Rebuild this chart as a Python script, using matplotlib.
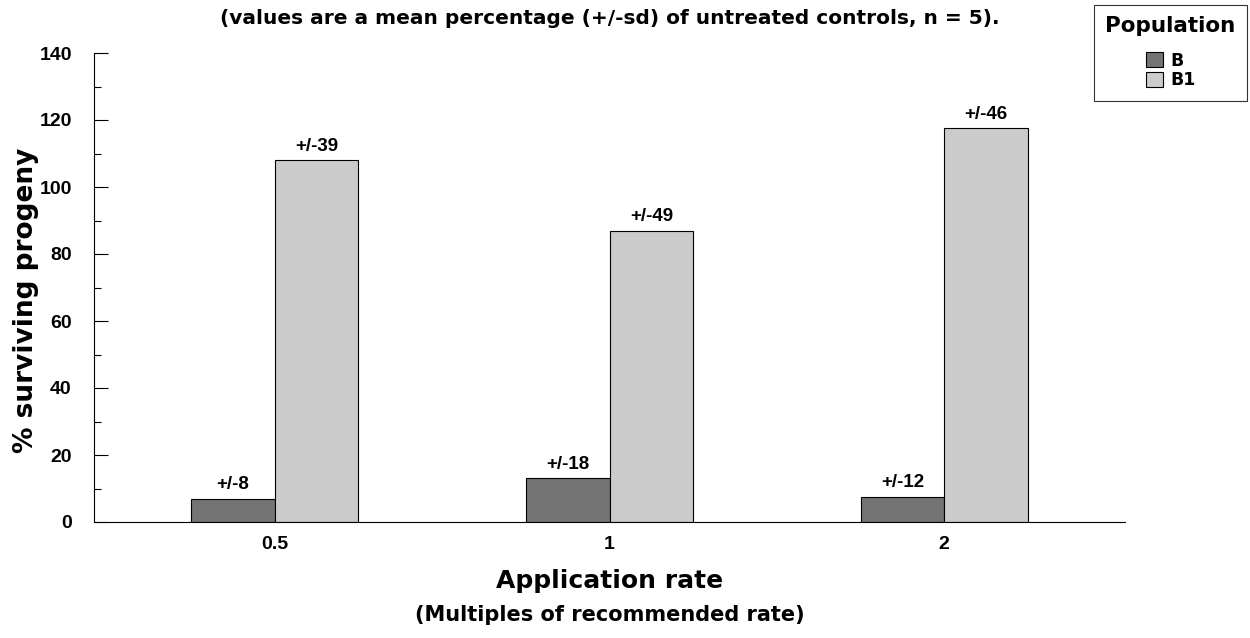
import numpy as np
import matplotlib
matplotlib.use("Agg")
import matplotlib.pyplot as plt
from matplotlib.ticker import MultipleLocator

# ---------------------------------------------------------------------------
# Data
# ---------------------------------------------------------------------------
rates = ["0.5", "1", "2"]
pop_b = [7, 13, 7.5]
pop_b1 = [108, 87, 117.5]
sd_b = ["+/-8", "+/-18", "+/-12"]
sd_b1 = ["+/-39", "+/-49", "+/-46"]

plt.rcParams["font.family"] = ["Liberation Sans", "DejaVu Sans"]
plt.rcParams["font.weight"] = "bold"
WIDE = ["DejaVu Sans"]  # wider face for the labels, closer to the scan

W, H = 1250, 638
fig = plt.figure(figsize=(W / 100, H / 100), dpi=100)
ax = fig.add_axes([94 / W, 1 - 522 / H, (1125 - 94) / W, (522 - 53) / H])

x = np.arange(len(rates))
bw = 0.25
bars_b = ax.bar(x - bw / 2, pop_b, bw, color="#747474", edgecolor="black",
                linewidth=0.8, label="B")
bars_b1 = ax.bar(x + bw / 2, pop_b1, bw, color="#cbcbcb", edgecolor="black",
                 linewidth=0.8, label="B1")

for bars, labels in ((bars_b, sd_b), (bars_b1, sd_b1)):
    for rect, lab in zip(bars, labels):
        ax.annotate(lab, (rect.get_x() + rect.get_width() / 2, rect.get_height()),
                    xytext=(0, 4), textcoords="offset points",
                    ha="center", va="bottom", fontsize=13.5, fontweight="bold")

ax.set_xlim(-0.54, 2.54)
ax.set_ylim(0, 140)
ax.set_xticks(x)
ax.set_xticklabels(rates, fontsize=14, fontweight="bold")
ax.yaxis.set_major_locator(MultipleLocator(20))
ax.yaxis.set_minor_locator(MultipleLocator(10))
ax.tick_params(axis="y", which="major", direction="in", length=10, width=0.8,
               labelsize=14, pad=16)
ax.tick_params(axis="y", which="minor", direction="in", length=5, width=0.8)
ax.tick_params(axis="x", length=0, pad=10)
for lab in ax.get_yticklabels():
    lab.set_fontweight("bold")
ax.spines["top"].set_visible(False)
ax.spines["right"].set_visible(False)
ax.spines["left"].set_linewidth(0.8)
ax.spines["bottom"].set_linewidth(0.8)

cx = (94 + 1125) / 2 / W
fig.text(cx, 1 - 18 / H,
         "(values are a mean percentage (+/-sd) of untreated controls, n = 5).",
         ha="center", va="center", fontsize=14.5, fontweight="bold", family=WIDE)
fig.text(cx, 1 - 581 / H, "Application rate", ha="center", va="center",
         fontsize=18, fontweight="bold", family=WIDE)
fig.text(cx, 1 - 615 / H, "(Multiples of recommended rate)", ha="center",
         va="center", fontsize=15, fontweight="bold", family=WIDE)
fig.text(26 / W, 1 - 300 / H, "% surviving progeny", rotation=90,
         ha="center", va="center", fontsize=19, fontweight="bold", family=WIDE)

leg = fig.legend(handles=[bars_b, bars_b1], labels=["B", "B1"],
                 loc="upper right", bbox_to_anchor=(1247 / W, 1 - 5 / H),
                 borderaxespad=0,
                 title="Population", prop={"family": WIDE, "size": 12.5,
                                           "weight": "bold"},
                 title_fontproperties={"family": WIDE, "size": 15.5,
                                       "weight": "bold"},
                 frameon=True, fancybox=False, edgecolor="black",
                 handlelength=1.0, handleheight=1.0, handletextpad=0.4,
                 borderpad=0.65, labelspacing=0.1)
leg._legend_box.sep = 11  # gap between the title and the entries
leg.get_frame().set_linewidth(0.8)

fig.savefig("out.png", dpi=100)
